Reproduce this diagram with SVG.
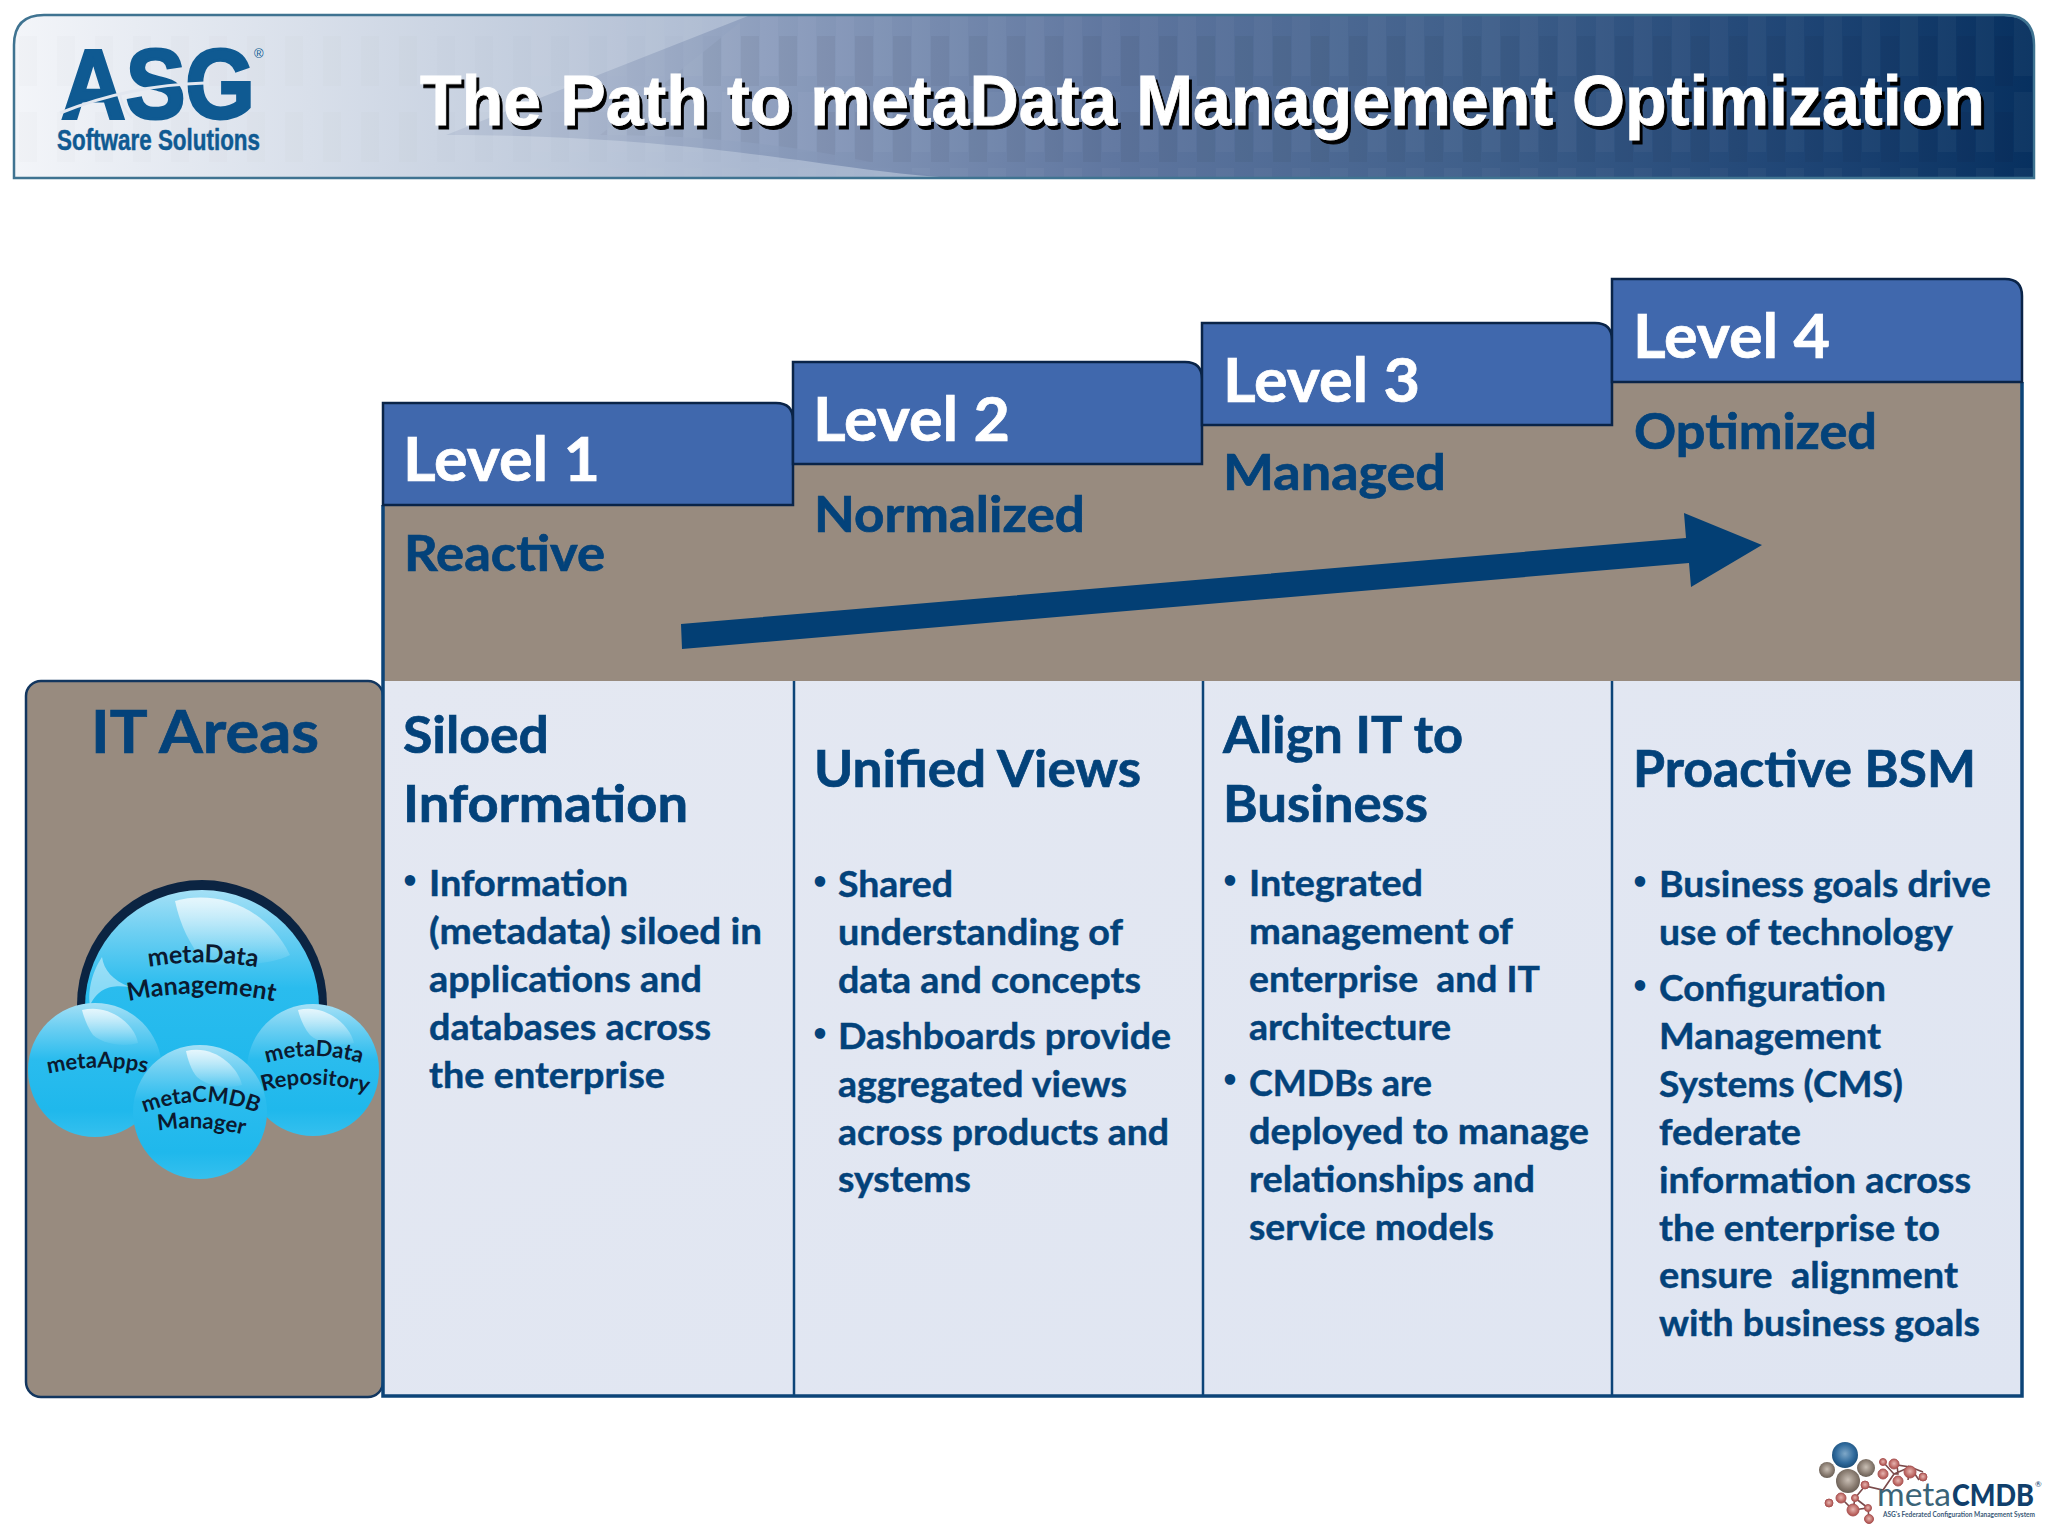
<svg xmlns="http://www.w3.org/2000/svg" xmlns:xlink="http://www.w3.org/1999/xlink" width="2048" height="1536" viewBox="0 0 2048 1536">
<style>
text{font-family:"Lato","Open Sans","Liberation Sans",sans-serif;font-weight:700}
.lvl{fill:#fff;font-size:62px;stroke:#fff;stroke-width:.7}
.sub{fill:#03427a;font-size:49px;stroke:#03427a;stroke-width:.7}
.hd{fill:#03427a;font-size:51px;stroke:#03427a;stroke-width:.7}
.bd{fill:#03427a;font-size:36px;stroke:#03427a;stroke-width:.45}
.dot{fill:#03427a;font-size:24px}
.bb{fill:#0b1a30;font-size:25px;text-anchor:middle}
.bs{fill:#0b1a30;font-size:22px;text-anchor:middle}
.tab{fill:#4068ad;stroke:#0a2448;stroke-width:2.5}
.ttl{font-family:"Liberation Sans",Arial,sans-serif;font-size:70px}
.asg{font-family:"Liberation Sans",Arial,sans-serif;fill:#0f5a92}
.ln{stroke:#0c4478;stroke-width:3.5;fill:none}
.atom{fill:url(#red);stroke:#a55;stroke-width:1}
.bond{stroke:#7a4a4a;stroke-width:1.6;fill:none}
</style>
<defs>
<linearGradient id="hBase" gradientUnits="userSpaceOnUse" x1="14" x2="1000" y1="0" y2="0"><stop offset="0" stop-color="#f3f5f9"/><stop offset=".3" stop-color="#d8dfea"/><stop offset=".55" stop-color="#c0cbdc"/><stop offset=".75" stop-color="#aab8d0"/><stop offset="1" stop-color="#9fb0ca"/></linearGradient>
<linearGradient id="hDark" gradientUnits="userSpaceOnUse" x1="446" x2="2034" y1="0" y2="0"><stop offset="0" stop-color="#bcc7d9"/><stop offset=".1" stop-color="#a7b4cc"/><stop offset=".2" stop-color="#8d9ebd"/><stop offset=".42" stop-color="#5f769f"/><stop offset=".65" stop-color="#3f5f8a"/><stop offset=".85" stop-color="#1f4575"/><stop offset="1" stop-color="#07305f"/></linearGradient>
<pattern id="tile" width="38" height="76" patternUnits="userSpaceOnUse" x="0" y="16"><rect width="18" height="60" fill="#fff" opacity=".025"/><rect x="19" y="20" width="18" height="50" fill="#000" opacity=".03"/></pattern>
<linearGradient id="pane" x1="0" x2="1" y1="0" y2="1"><stop offset="0" stop-color="#e4e8f2"/><stop offset="1" stop-color="#dfe5f2"/></linearGradient>
<linearGradient id="ball" x1="0" x2="0" y1="0" y2="1"><stop offset="0" stop-color="#a4e0f6"/><stop offset=".18" stop-color="#6dcff2"/><stop offset=".42" stop-color="#2abcee"/><stop offset=".8" stop-color="#1fb8ec"/><stop offset="1" stop-color="#35c0ee"/></linearGradient>
<linearGradient id="gloss" x1="0" x2="0" y1="0" y2="1"><stop offset="0" stop-color="#fff" stop-opacity=".75"/><stop offset="1" stop-color="#fff" stop-opacity=".05"/></linearGradient>
<radialGradient id="blue" cx=".5" cy=".45" r=".6"><stop offset="0" stop-color="#7fa8c8"/><stop offset=".6" stop-color="#2f6a9c"/><stop offset="1" stop-color="#15466f"/></radialGradient>
<radialGradient id="grey" cx=".5" cy=".45" r=".6"><stop offset="0" stop-color="#c9bfb5"/><stop offset=".6" stop-color="#8a7d72"/><stop offset="1" stop-color="#5f554c"/></radialGradient>
<radialGradient id="red" cx=".5" cy=".45" r=".6"><stop offset="0" stop-color="#e6b5b0"/><stop offset="1" stop-color="#a8433f"/></radialGradient>
<path id="p1" d="M138 969Q202 956 268 969"/>
<path id="p2" d="M117 1004Q200 983 286 1004"/>
<path id="p3" d="M36 1077Q97 1059 159 1076"/>
<path id="p4" d="M255 1067Q313 1045 373 1067"/>
<path id="p5" d="M251 1095Q313 1073 379 1097"/>
<path id="p6" d="M134 1117Q200 1087 268 1117"/>
<path id="p7" d="M146 1133Q200 1121 256 1138"/>
</defs>
<rect width="2048" height="1536" fill="#fff"/>

<g id="header">
<path d="M14 178V45Q14 15 44 15H2004Q2034 15 2034 45V178Z" fill="url(#hBase)"/>
<path id="wedge" d="M446 135L748 16H2004Q2034 16 2034 45V177H940C830 170 700 135 446 135Z" fill="url(#hDark)"/>
<path d="M14 178V45Q14 15 44 15H2004Q2034 15 2034 45V178Z" fill="url(#tile)" opacity=".35"/>
<path d="M748 16H2004Q2034 16 2034 45V177H940C900 172 800 135 600 135Z" fill="url(#tile)"/>
<path d="M14 178V45Q14 15 44 15H2004Q2034 15 2034 45V178Z" fill="none" stroke="#3f7391" stroke-width="2.5"/>
<text class="ttl" x="423" y="129" textLength="1565" lengthAdjust="spacingAndGlyphs" fill="#000" stroke="#000" stroke-width=".8">The Path to metaData Management Optimization</text>
<text class="ttl" x="420" y="125" textLength="1565" lengthAdjust="spacingAndGlyphs" fill="#fff" stroke="#fff" stroke-width=".8">The Path to metaData Management Optimization</text>
<text class="asg" x="61" y="118" font-size="98" textLength="194" lengthAdjust="spacingAndGlyphs" stroke="#0f5a92" stroke-width="3">ASG</text>
<path d="M60 113Q130 85 205 83" stroke="#e2e7f0" stroke-width="3" fill="none"/>
<path d="M120 94Q122 108 132 118" stroke="#e2e7f0" stroke-width="2" fill="none"/>
<text class="asg" x="254" y="58" font-size="13" style="font-weight:400">®</text>
<text class="asg" x="57" y="150" font-size="29" textLength="203" lengthAdjust="spacingAndGlyphs" stroke="#0f5a92" stroke-width=".5">Software Solutions</text>
</g>

<g id="it-areas">
<rect x="26" y="681" width="357" height="716" rx="15" fill="#988b7f" stroke="#12365f" stroke-width="2.5"/>
<text class="hd" style="font-size:60px" x="91" y="753" textLength="228" lengthAdjust="spacingAndGlyphs">IT Areas</text>
</g>

<g id="bubbles">
<g id="bubble-management">
<circle cx="202" cy="1005" r="125" fill="#0b2442"/>
<circle cx="202" cy="1007" r="117" fill="url(#ball)"/>
<path d="M175 901C215 890 265 905 290 955C270 965 235 966 205 964C190 945 180 925 175 901Z" fill="url(#gloss)"/>
<path d="M102 957C90 975 88 995 90 1005C100 985 115 985 130 987C112 980 104 970 102 957Z" fill="#fff" opacity=".45"/>
<text class="bb"><textPath href="#p1" xlink:href="#p1" startOffset="50%">metaData</textPath></text>
<text class="bb"><textPath href="#p2" xlink:href="#p2" startOffset="50%">Management</textPath></text>
</g>
<g id="bubble-apps">
<circle cx="95" cy="1070" r="67" fill="url(#ball)"/>
<path d="M82 1010C110 1003 135 1025 138 1043C125 1047 105 1045 93 1035C88 1028 84 1018 82 1010Z" fill="url(#gloss)"/>
<text class="bs"><textPath href="#p3" xlink:href="#p3" startOffset="50%">metaApps</textPath></text>
</g>
<g id="bubble-repository">
<circle cx="313" cy="1070" r="66" fill="url(#ball)"/>
<path d="M298 1010C325 1003 350 1025 354 1043C340 1047 322 1045 310 1035C304 1028 300 1018 298 1010Z" fill="url(#gloss)"/>
<text class="bs"><textPath href="#p4" xlink:href="#p4" startOffset="50%">metaData</textPath></text>
<text class="bs"><textPath href="#p5" xlink:href="#p5" startOffset="50%">Repository</textPath></text>
</g>
<g id="bubble-cmdb">
<circle cx="200" cy="1112" r="67" fill="url(#ball)"/>
<path d="M186 1051C213 1044 238 1066 242 1085C228 1089 209 1087 197 1077C191 1070 188 1060 186 1051Z" fill="url(#gloss)"/>
<text class="bs"><textPath href="#p6" xlink:href="#p6" startOffset="50%">metaCMDB</textPath></text>
<text class="bs"><textPath href="#p7" xlink:href="#p7" startOffset="50%">Manager</textPath></text>
</g>
</g>

<g id="matrix">
<path d="M383 505H793V464H1202V425H1612V382H2022V681H383Z" fill="#988b7f"/>
<rect x="383" y="681" width="1639" height="714" fill="url(#pane)"/>
<path class="ln" d="M383 505V1396H2022V382"/>
<path class="ln" style="stroke-width:2.5" d="M794 681V1396M1203 681V1396M1612 681V1396"/>
</g>

<g id="level-1">
<path class="tab" d="M383 403H776Q793 403 793 420V505H383Z"/>
<text class="lvl" x="403" y="481" textLength="197" lengthAdjust="spacingAndGlyphs">Level 1</text>
<text class="sub" x="404" y="571" textLength="201" lengthAdjust="spacingAndGlyphs">Reactive</text>
<text class="hd" x="403" y="753" textLength="146" lengthAdjust="spacingAndGlyphs">Siloed</text>
<text class="hd" x="403" y="822" textLength="285" lengthAdjust="spacingAndGlyphs">Information</text>
<g class="body">
<text class="dot" x="403" y="888">•</text>
<text class="bd" x="429" y="896" textLength="199" lengthAdjust="spacingAndGlyphs">Information</text>
<text class="bd" x="429" y="944" textLength="333" lengthAdjust="spacingAndGlyphs">(metadata) siloed in</text>
<text class="bd" x="429" y="992" textLength="273" lengthAdjust="spacingAndGlyphs">applications and</text>
<text class="bd" x="429" y="1040" textLength="282" lengthAdjust="spacingAndGlyphs">databases across</text>
<text class="bd" x="429" y="1088" textLength="236" lengthAdjust="spacingAndGlyphs">the enterprise</text>
</g>
</g>

<g id="level-2">
<path class="tab" d="M793 362H1185Q1202 362 1202 379V464H793Z"/>
<text class="lvl" x="813" y="441" textLength="197" lengthAdjust="spacingAndGlyphs">Level 2</text>
<text class="sub" x="814" y="532" textLength="271" lengthAdjust="spacingAndGlyphs">Normalized</text>
<text class="hd" x="814" y="787" textLength="327" lengthAdjust="spacingAndGlyphs">Unified Views</text>
<g class="body">
<text class="dot" x="813" y="889">•</text>
<text class="bd" x="838" y="897" textLength="115" lengthAdjust="spacingAndGlyphs">Shared</text>
<text class="bd" x="838" y="945" textLength="285" lengthAdjust="spacingAndGlyphs">understanding of</text>
<text class="bd" x="838" y="993" textLength="303" lengthAdjust="spacingAndGlyphs">data and concepts</text>
<text class="dot" x="813" y="1041">•</text>
<text class="bd" x="838" y="1049" textLength="333" lengthAdjust="spacingAndGlyphs">Dashboards provide</text>
<text class="bd" x="838" y="1097" textLength="289" lengthAdjust="spacingAndGlyphs">aggregated views</text>
<text class="bd" x="838" y="1145" textLength="331" lengthAdjust="spacingAndGlyphs">across products and</text>
<text class="bd" x="838" y="1192" textLength="133" lengthAdjust="spacingAndGlyphs">systems</text>
</g>
</g>

<g id="level-3">
<path class="tab" d="M1202 323H1595Q1612 323 1612 340V425H1202Z"/>
<text class="lvl" x="1223" y="402" textLength="197" lengthAdjust="spacingAndGlyphs">Level 3</text>
<text class="sub" x="1223" y="490" textLength="223" lengthAdjust="spacingAndGlyphs">Managed</text>
<text class="hd" x="1223" y="753" textLength="240" lengthAdjust="spacingAndGlyphs">Align IT to</text>
<text class="hd" x="1223" y="822" textLength="205" lengthAdjust="spacingAndGlyphs">Business</text>
<g class="body">
<text class="dot" x="1223" y="888">•</text>
<text class="bd" x="1249" y="896" textLength="174" lengthAdjust="spacingAndGlyphs">Integrated</text>
<text class="bd" x="1249" y="944" textLength="264" lengthAdjust="spacingAndGlyphs">management of</text>
<text class="bd" x="1249" y="992" textLength="291" lengthAdjust="spacingAndGlyphs" xml:space="preserve">enterprise  and IT</text>
<text class="bd" x="1249" y="1040" textLength="202" lengthAdjust="spacingAndGlyphs">architecture</text>
<text class="dot" x="1223" y="1087">•</text>
<text class="bd" x="1249" y="1096" textLength="183" lengthAdjust="spacingAndGlyphs">CMDBs are</text>
<text class="bd" x="1249" y="1144" textLength="340" lengthAdjust="spacingAndGlyphs">deployed to manage</text>
<text class="bd" x="1249" y="1192" textLength="286" lengthAdjust="spacingAndGlyphs">relationships and</text>
<text class="bd" x="1249" y="1240" textLength="245" lengthAdjust="spacingAndGlyphs">service models</text>
</g>
</g>

<g id="level-4">
<path class="tab" d="M1612 279H2005Q2022 279 2022 296V382H1612Z"/>
<text class="lvl" x="1633" y="358" textLength="197" lengthAdjust="spacingAndGlyphs">Level 4</text>
<text class="sub" x="1634" y="449" textLength="243" lengthAdjust="spacingAndGlyphs">Optimized</text>
<text class="hd" x="1633" y="787" textLength="343" lengthAdjust="spacingAndGlyphs">Proactive BSM</text>
<g class="body">
<text class="dot" x="1633" y="889">•</text>
<text class="bd" x="1659" y="897" textLength="332" lengthAdjust="spacingAndGlyphs">Business goals drive</text>
<text class="bd" x="1659" y="945" textLength="294" lengthAdjust="spacingAndGlyphs">use of technology</text>
<text class="dot" x="1633" y="993">•</text>
<text class="bd" x="1659" y="1001" textLength="227" lengthAdjust="spacingAndGlyphs">Configuration</text>
<text class="bd" x="1659" y="1049" textLength="222" lengthAdjust="spacingAndGlyphs">Management</text>
<text class="bd" x="1659" y="1097" textLength="244" lengthAdjust="spacingAndGlyphs">Systems (CMS)</text>
<text class="bd" x="1659" y="1145" textLength="142" lengthAdjust="spacingAndGlyphs">federate</text>
<text class="bd" x="1659" y="1193" textLength="312" lengthAdjust="spacingAndGlyphs">information across</text>
<text class="bd" x="1659" y="1241" textLength="281" lengthAdjust="spacingAndGlyphs">the enterprise to</text>
<text class="bd" x="1659" y="1288" textLength="299" lengthAdjust="spacingAndGlyphs" xml:space="preserve">ensure  alignment</text>
<text class="bd" x="1659" y="1336" textLength="321" lengthAdjust="spacingAndGlyphs">with business goals</text>
</g>
</g>

<g id="connectors">
<polygon points="681,624 1686,538 1684,513 1762,545 1691,587 1689,563 682,649" fill="#033f74"/>
</g>

<g id="metacmdb-logo">
<g class="bond">
<path d="M1883 1462L1894 1474L1883 1490L1865 1486L1855 1498L1853 1510L1841 1498M1894 1474L1910 1467L1908 1480M1894 1474L1898 1474L1897 1465L1910 1467L1919 1480L1910 1467L1923 1472M1853 1510L1868 1508L1869 1519M1855 1498L1868 1508"/>
</g>
<circle cx="1845" cy="1455" r="13" fill="url(#blue)"/>
<circle cx="1827" cy="1470" r="8" fill="url(#grey)"/>
<circle cx="1866" cy="1468" r="9" fill="url(#grey)"/>
<circle cx="1848" cy="1481" r="12" fill="url(#grey)"/>
<circle class="atom" cx="1883" cy="1462" r="3.5"/>
<circle class="atom" cx="1894" cy="1464" r="5"/>
<circle class="atom" cx="1883" cy="1474" r="5"/>
<circle class="atom" cx="1898" cy="1481" r="5"/>
<circle class="atom" cx="1910" cy="1472" r="6"/>
<circle class="atom" cx="1923" cy="1477" r="4"/>
<circle class="atom" cx="1865" cy="1485" r="4"/>
<circle class="atom" cx="1855" cy="1498" r="3.5"/>
<circle class="atom" cx="1841" cy="1498" r="5"/>
<circle class="atom" cx="1829" cy="1503" r="4"/>
<circle class="atom" cx="1853" cy="1510" r="6"/>
<circle class="atom" cx="1868" cy="1508" r="3.5"/>
<circle class="atom" cx="1869" cy="1519" r="4.5"/>
<text x="1877" y="1506" font-size="32" textLength="74" lengthAdjust="spacingAndGlyphs" fill="#3b6478" style="font-weight:400">meta</text>
<text x="1952" y="1506" font-size="31" textLength="82" lengthAdjust="spacingAndGlyphs" fill="#103f6c" style="font-weight:900">CMDB</text>
<text x="2035" y="1487" font-size="8" fill="#103f6c" style="font-weight:400">®</text>
<text x="1883" y="1517" font-size="6.5" textLength="152" lengthAdjust="spacingAndGlyphs" fill="#3b5a78">ASG's Federated Configuration Management System</text>
</g>
</svg>
